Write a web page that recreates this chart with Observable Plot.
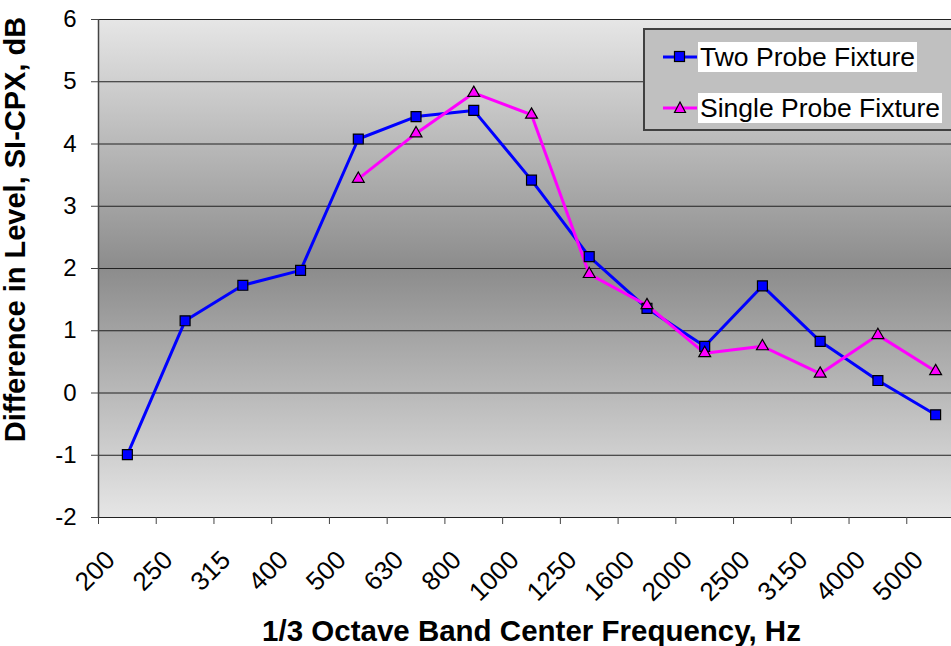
<!DOCTYPE html>
<html>
<head>
<meta charset="utf-8">
<script src="https://cdn.jsdelivr.net/npm/d3@7"></script>
<script src="https://cdn.jsdelivr.net/npm/@observablehq/plot@0.6"></script>
<style>
  html, body { margin: 0; padding: 0; background: #fff; overflow: hidden; }
  #wrap { position: relative; width: 951px; height: 646px; overflow: hidden; font-family: "Liberation Sans", Arial, sans-serif; }
  #legend { position: absolute; left: 643px; top: 28px; width: 330px; height: 99px; background: #c0c0c0; border: 2px solid #404040; box-sizing: content-box; }
  .entry { position: absolute; left: 17px; height: 30px; display: flex; align-items: center; }
  .entry svg { width: 36px; height: 30px; }
  .entry span { background: #fff; font-size: 26.5px; line-height: 30px; padding: 0 2px; margin-left: 0px; color: #000; }
</style>
</head>
<body>
<div id="wrap">
  <div id="chart"></div>
  <div id="legend"></div>
</div>
<script>
const categories = ["200","250","315","400","500","630","800","1000","1250","1600","2000","2500","3150","4000","5000"];
const twoProbe = [-0.99, 1.16, 1.73, 1.97, 4.08, 4.44, 4.54, 3.42, 2.19, 1.36, 0.75, 1.72, 0.83, 0.20, -0.35];
const singleProbe = [null, null, null, null, 3.44, 4.17, 4.82, 4.47, 1.91, 1.41, 0.64, 0.75, 0.31, 0.93, 0.35];
const yTicks = [-2, -1, 0, 1, 2, 3, 4, 5, 6];
const seriesNames = ["Two Probe Fixture", "Single Probe Fixture"];
const seriesColors = ["#0000ff", "#ff00ff"];

const twoData = categories.map((c, i) => ({i: i + 0.5, v: twoProbe[i]}));
const singleData = categories.map((c, i) => ({i: i + 0.5, v: singleProbe[i]})).filter(d => d.v != null);
const catData = categories.map((c, i) => ({i: i + 0.5, label: c}));

const plot = Plot.plot({
  width: 951,
  height: 646,
  marginLeft: 98,
  marginRight: -13,
  marginTop: 19,
  marginBottom: 129,
  style: {fontFamily: "'Liberation Sans', Arial, sans-serif", background: "transparent", color: "#000", overflow: "hidden"},
  x: {type: "linear", domain: [0, categories.length]},
  y: {domain: [-2, 6]},
  marks: [
    Plot.frame({fill: "url(#bg)", stroke: "none"}),
    Plot.ruleY(yTicks, {stroke: "#222", strokeWidth: 1}),
    Plot.ruleX([0], {stroke: "#444", strokeWidth: 1.5}),
    Plot.axisY({ticks: yTicks, tickSize: 7, tickPadding: 15, fontSize: 24, tickFormat: d => String(d), label: null, stroke: "#444"}),
    Plot.axisX({ticks: d3.range(categories.length + 1), tickSize: 7, tickFormat: () => "", label: null, stroke: "#444"}),
    Plot.text(catData, {x: "i", text: "label", frameAnchor: "bottom", rotate: -45, textAnchor: "end", lineAnchor: "top", dx: -24, dy: 31, fontSize: 26, fill: "#000"}),
    Plot.line(twoData, {x: "i", y: "v", stroke: seriesColors[0], strokeWidth: 3}),
    Plot.line(singleData, {x: "i", y: "v", stroke: seriesColors[1], strokeWidth: 3}),
    Plot.dot(twoData, {x: "i", y: "v", symbol: "square", r: 5.6, fill: seriesColors[0], stroke: "#000", strokeWidth: 1.2}),
    Plot.dot(singleData, {x: "i", y: "v", symbol: "triangle", r: 4.4, fill: seriesColors[1], stroke: "#000", strokeWidth: 1.2}),
    Plot.text(["1/3 Octave Band Center Frequency, Hz"], {frameAnchor: "bottom", dy: 114, fontSize: 29.5, fontWeight: "bold", fill: "#000", textAnchor: "middle", lineAnchor: "middle"}),
    Plot.text(["Difference in Level, SI-CPX, dB"], {frameAnchor: "left", dx: -83, dy: -39, rotate: -90, fontSize: 29, fontWeight: "bold", fill: "#000", textAnchor: "middle", lineAnchor: "middle"})
  ]
});

const defs = d3.select(plot).insert("defs", ":first-child");
const grad = defs.append("linearGradient").attr("id", "bg").attr("x1", 0).attr("y1", 0).attr("x2", 0).attr("y2", 1);
grad.append("stop").attr("offset", "0%").attr("stop-color", "#e6e6e6");
grad.append("stop").attr("offset", "50%").attr("stop-color", "#8c8c8c");
grad.append("stop").attr("offset", "100%").attr("stop-color", "#e6e6e6");

document.getElementById("chart").appendChild(plot);

// Legend
const legend = document.getElementById("legend");
seriesNames.forEach((name, k) => {
  const e = document.createElement("div");
  e.className = "entry";
  e.style.top = (k === 0 ? 12 : 63) + "px";
  const sym = k === 0
    ? '<rect x="12.5" y="9.5" width="10" height="10" fill="' + seriesColors[k] + '" stroke="#000" stroke-width="1.2"/>'
    : '<path d="M18,9 L23.5,19.5 L12.5,19.5 Z" fill="' + seriesColors[k] + '" stroke="#000" stroke-width="1.2"/>';
  e.innerHTML = '<svg viewBox="0 0 36 30"><line x1="1" x2="35" y1="15" y2="15" stroke="' + seriesColors[k] + '" stroke-width="3"/>' + sym + '</svg><span>' + name + '</span>';
  legend.appendChild(e);
});
</script>
</body>
</html>
